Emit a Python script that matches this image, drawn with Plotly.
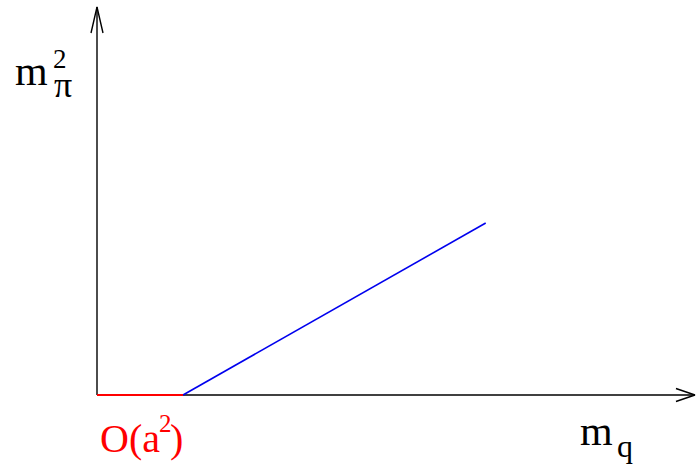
import plotly.graph_objects as go

# ---- data (chart units) ----
mq_flat = [0.0, 1.0]          # O(a^2) offset region
mpi_flat = [0.0, 0.0]
mq_line = [1.0, 4.52]         # linear rise of m_pi^2 with m_q
mpi_line = [0.0, 2.0]
axis_x_end = 6.953
axis_y_end = 4.512

W, H = 696, 470
PX = 86.0          # pixels per unit
X0, Y0 = 97.0, 395.0  # origin pixel

xr = [-X0 / PX, (W - X0) / PX]
yr = [-(H - Y0) / PX, Y0 / PX]

fig = go.Figure()

axis_style = dict(color="black", width=1.4)
# axes
fig.add_trace(go.Scatter(x=[0, axis_x_end], y=[0, 0], mode="lines", line=axis_style, hoverinfo="skip"))
fig.add_trace(go.Scatter(x=[0, 0], y=[0, axis_y_end], mode="lines", line=axis_style, hoverinfo="skip"))
# arrow heads (open V)
ax_len, ax_half = 19 / PX, 6.5 / PX
fig.add_trace(go.Scatter(x=[axis_x_end - ax_len, axis_x_end, axis_x_end - ax_len],
                         y=[ax_half, 0, -ax_half], mode="lines", line=axis_style, hoverinfo="skip"))
ay_len, ay_half = 26 / PX, 6 / PX
fig.add_trace(go.Scatter(x=[-ay_half, 0, ay_half],
                         y=[axis_y_end - ay_len, axis_y_end, axis_y_end - ay_len],
                         mode="lines", line=axis_style, hoverinfo="skip"))

# data lines
fig.add_trace(go.Scatter(x=mq_line, y=mpi_line, mode="lines",
                         line=dict(color="#0000ee", width=1.6), hoverinfo="skip"))
fig.add_trace(go.Scatter(x=mq_flat, y=mpi_flat, mode="lines",
                         line=dict(color="#ff0000", width=2.2), hoverinfo="skip"))

FONT = "Liberation Serif, Times New Roman, Times, serif"


def lab(text, px, py, size, color="black"):
    fig.add_annotation(x=px / W, y=1 - py / H, xref="paper", yref="paper",
                       text=text, showarrow=False, xanchor="center", yanchor="middle",
                       borderpad=0, borderwidth=0,
                       font=dict(family=FONT, size=size, color=color))


RED = "#ff0000"
lab("m", 31.5, 70.8, 42)
lab("2", 60, 58.9, 27)
lab("π", 63, 85, 36)
lab("O(a", 130, 438.5, 40, RED)
lab("2", 165.5, 423.6, 25, RED)
lab(")", 176.5, 438.5, 40, RED)
lab("m", 596, 430.8, 42)
lab("q", 625, 446.2, 32)

fig.update_layout(
    width=W, height=H,
    margin=dict(l=0, r=0, t=0, b=0),
    paper_bgcolor="white", plot_bgcolor="white",
    showlegend=False,
    font=dict(family=FONT),
    xaxis=dict(range=xr, visible=False, showgrid=False, zeroline=False, fixedrange=True),
    yaxis=dict(range=yr, visible=False, showgrid=False, zeroline=False, fixedrange=True),
)

fig.write_html("out.html", config={"displayModeBar": False},
               post_script="document.body.style.margin='0';document.body.style.padding='0';")
